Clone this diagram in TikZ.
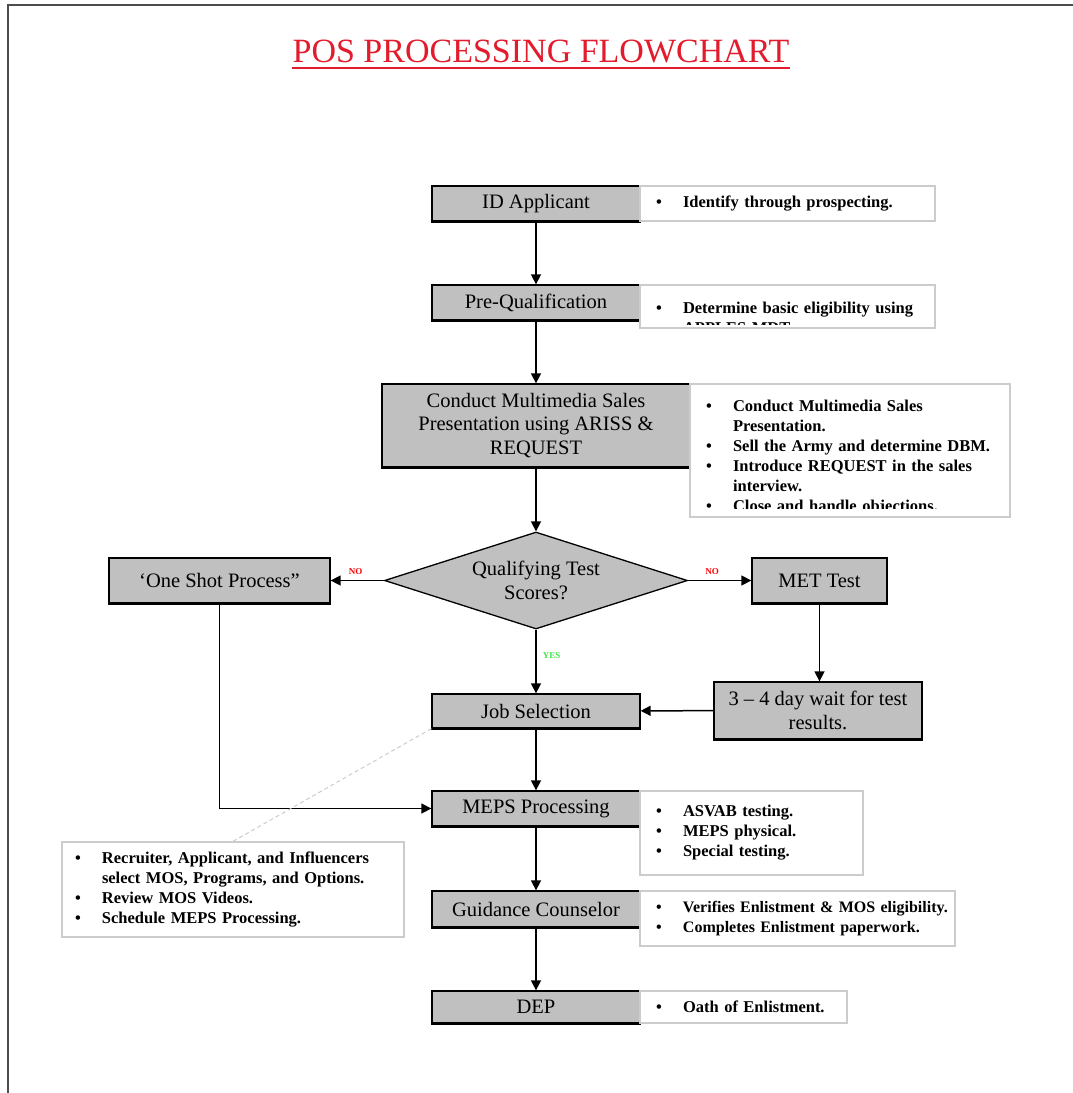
\documentclass[tikz,border=0pt]{standalone}
\usepackage{fontspec}
\setmainfont{Liberation Serif}
\usetikzlibrary{arrows.meta, shapes.geometric}

\definecolor{boxgray}{RGB}{192,192,192}
\definecolor{titlered}{RGB}{226,28,44}
\definecolor{yesgreen}{RGB}{70,225,70}

\tikzset{
  stepbox/.style={draw, line width=1.3pt, fill=boxgray, minimum width=208pt, minimum height=35pt, align=center, inner sep=2pt, font=\fontsize{20.5}{23.5}\selectfont},
  notebox/.style={draw=gray!40, line width=1.3pt, fill=white, align=left, inner xsep=16pt, inner ysep=0pt, font=\fontsize{16.5}{20}\selectfont\bfseries},
  flow/.style={line width=1.5pt, -{Triangle[length=10pt,width=10pt]}},
  answer/.style={font=\fontsize{9}{10}\selectfont\bfseries, inner sep=1pt}
}
\newcommand{\noteline}[1]{\mbox{\makebox[27pt][l]{\textbullet}#1}}
\newcommand{\hangline}[1]{\mbox{\hspace*{27pt}#1}}

\begin{document}
\begin{tikzpicture}[x=1pt, y=-1pt]
\useasboundingbox (0,0) rectangle (1073,1093);
% page edge
\draw[line width=2pt, black!70] (8,1093) -- (8,5) -- (1073,5);

% title
\node[text=titlered, font=\fontsize{34}{40}\selectfont, inner sep=0pt, anchor=base] (title) at (541,62) {POS PROCESSING FLOWCHART};
\draw[titlered, line width=2pt] ([yshift=-6pt]title.base west) -- ([yshift=-6pt]title.base east);

% process steps
\node[stepbox] (idapp) at (536,203.5) {ID Applicant};
\node[stepbox] (prequal) at (536,302.5) {Pre-Qualification};
\node[stepbox, minimum width=308pt, minimum height=83pt] (sales) at (536,425.5) {Conduct Multimedia Sales\\Presentation using ARISS \&\\REQUEST};
\node[stepbox, diamond, aspect=3.1, minimum width=303pt, minimum height=97pt, inner sep=0pt] (qts) at (536,580.5) {Qualifying Test\\Scores?};
\node[stepbox, minimum width=221pt, minimum height=45pt] (oneshot) at (219.5,580.5) {‘One Shot Process”};
\node[stepbox, minimum width=135pt, minimum height=45pt] (met) at (819.5,580.5) {MET Test};
\node[stepbox, minimum height=57pt] (wait) at (818,710.5) {3 – 4 day wait for test\\results.};
\node[stepbox, minimum height=34pt] (jobsel) at (536,711) {Job Selection};
\node[stepbox] (meps) at (536,808.5) {MEPS Processing};
\node[stepbox, minimum height=36pt] (guide) at (536,909) {Guidance Counselor};
\node[stepbox, minimum height=32pt] (dep) at (536,1007) {DEP};

\foreach \b in {idapp, prequal, sales, oneshot, met, wait, jobsel, meps, guide, dep}
  \draw[line width=2.5pt] (\b.south west) -- (\b.south east);

% connectors
\draw[flow] (idapp) -- (prequal);
\draw[flow] (prequal) -- (sales);
\draw[flow] (sales) -- (qts);
\draw[flow] (qts) -- node[answer, text=red, above, pos=0.53, yshift=4pt] (noleft) {NO} (oneshot);
\draw[flow] (qts) -- node[answer, text=red, above, pos=0.38, yshift=4pt] (noright) {NO} (met);
\draw[flow] (qts) -- node[answer, text=yesgreen, right, pos=0.4, xshift=5pt] (yes) {YES} (jobsel);
\draw[flow] (met) -- (met |- wait.north);
\draw[flow] (wait) -- (jobsel);
\draw[flow] (jobsel) -- (meps);
\draw[flow] (meps) -- (guide);
\draw[flow] (guide) -- (dep);
\draw[flow] (oneshot.south) |- (meps.west);

% side notes
\node[notebox, text width=263pt, minimum height=35pt] (idnote) at (787.5,203.5) {\noteline{Identify through prospecting.}};
\node[notebox, text width=263pt, minimum height=43pt] (prenote) at (787.5,306.5) {};
\begin{scope}
  \clip ([yshift=4pt]prenote.south west) rectangle (prenote.north east);
  \node[notebox, draw=none, fill=none, text width=263pt, anchor=north west] (pretext) at ([yshift=-17pt]prenote.north west) {\noteline{Determine basic eligibility using}\\\hangline{APPLES-MDT}};
\end{scope}
\node[notebox, text width=288pt, minimum height=133pt] (salesnote) at (850,450.5) {};
\begin{scope}
  \clip ([yshift=9pt]salesnote.south west) rectangle (salesnote.north east);
  \node[notebox, draw=none, fill=none, text width=288pt, anchor=north west] (salestext) at ([yshift=-16pt]salesnote.north west) {\noteline{Conduct Multimedia Sales}\\\hangline{Presentation.}\\\noteline{Sell the Army and determine DBM.}\\\noteline{Introduce REQUEST in the sales}\\\hangline{interview.}\\\noteline{Close and handle objections.}};
\end{scope}
\node[notebox, text width=191pt, minimum height=84pt] (mepsnote) at (751.5,833) {\noteline{ASVAB testing.}\\\noteline{MEPS physical.}\\\noteline{Special testing.}};
\node[notebox, text width=283pt, minimum height=55pt, font=\fontsize{16}{20}\selectfont\bfseries] (guidenote) at (797.5,918.5) {\noteline{Verifies Enlistment \& MOS eligibility.}\\\noteline{Completes Enlistment paperwork.}};
\node[notebox, text width=175pt, minimum height=32pt] (depnote) at (743.5,1007) {\noteline{Oath of Enlistment.}};
\node[notebox, inner xsep=13pt, text width=316pt, minimum height=95pt] (leftnote) at (233,889.5) {\noteline{Recruiter, Applicant, and Influencers}\\\hangline{select MOS, Programs, and Options.}\\\noteline{Review MOS Videos.}\\\noteline{Schedule MEPS Processing.}};

\draw[gray!40, line width=1pt, dash pattern=on 4pt off 3pt] (jobsel.south west) -- (leftnote.north);
\end{tikzpicture}
\end{document}
